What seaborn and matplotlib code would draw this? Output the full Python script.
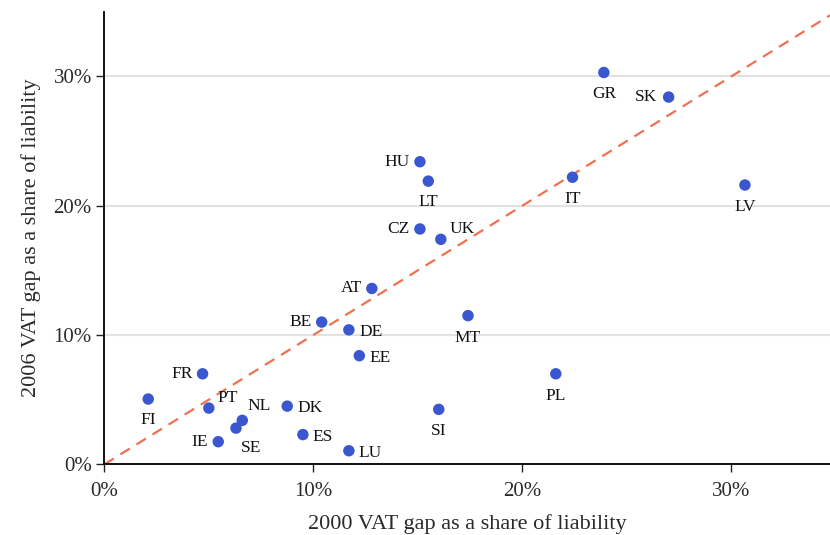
import matplotlib
matplotlib.use("Agg")
import matplotlib.pyplot as plt
import seaborn as sns
import pandas as pd
from matplotlib.ticker import FuncFormatter

countries = ["GR", "SK", "HU", "LT", "IT", "LV", "CZ", "UK", "AT", "BE", "DE", "EE",
             "MT", "FR", "FI", "PT", "NL", "SE", "IE", "DK", "ES", "LU", "PL", "SI"]
gap_2000 = [23.9, 27.0, 15.1, 15.5, 22.4, 30.65, 15.1, 16.1, 12.8, 10.4, 11.7, 12.2,
            17.4, 4.7, 2.1, 5.0, 6.6, 6.3, 5.45, 8.75, 9.5, 11.7, 21.6, 16.0]
gap_2006 = [30.3, 28.4, 23.4, 21.9, 22.2, 21.6, 18.2, 17.4, 13.6, 11.0, 10.4, 8.4,
            11.5, 7.0, 5.05, 4.35, 3.4, 2.8, 1.75, 4.5, 2.3, 1.05, 7.0, 4.25]
x_ticks = [0, 10, 20, 30]
y_ticks = [0, 10, 20, 30]

# label offsets in pixels (style only): (dx, dy, ha)
label_style = {
    "GR": (0, -22, "center"), "SK": (-11, 0, "right"), "HU": (-10, 0, "right"),
    "LT": (0, -21, "center"), "IT": (0, -22, "center"), "LV": (0, -22, "center"),
    "CZ": (-10, 0, "right"), "UK": (9, 10, "left"), "AT": (-10, 0, "right"),
    "BE": (-10, 0, "right"), "DE": (11, -2, "left"), "EE": (10, -2, "left"),
    "MT": (0, -22, "center"), "FR": (-10, 0, "right"), "FI": (0, -21, "center"),
    "PT": (9, 10, "left"), "NL": (5, 14, "left"), "SE": (5, -20, "left"),
    "IE": (-10, 0, "right"), "DK": (10, -2, "left"), "ES": (10, -2, "left"),
    "LU": (10, -2, "left"), "PL": (0, -22, "center"), "SI": (0, -22, "center"),
}

df = pd.DataFrame({"country": countries, "x": gap_2000, "y": gap_2006})

sns.set_theme(style="white")
plt.rcParams["font.family"] = ["Liberation Serif", "DejaVu Serif"]

fig = plt.figure(figsize=(8.3, 5.35), dpi=100)
ax = fig.add_axes([0.1257, 0.1321, 0.8743, 0.846])

ax.set_xlim(0, 34.72)
ax.set_ylim(0, 35)
ax.set_yticks(y_ticks)
ax.set_xticks(x_ticks)
ax.yaxis.grid(True, color="#e2e2e2", linewidth=1.5)
ax.xaxis.grid(False)
ax.set_axisbelow(True)

ax.axline((0, 0), slope=1, color="#f07150", linestyle=(0, (5, 3.5)),
          linewidth=1.6, zorder=2)

sns.scatterplot(data=df, x="x", y="y", ax=ax, color="#3b57d0", s=68,
                edgecolor="none", zorder=3)

for c, xv, yv in zip(countries, gap_2000, gap_2006):
    dx, dy, ha = label_style[c]
    ax.annotate(c, (xv, yv), xytext=(dx, dy), textcoords="offset pixels",
                ha=ha, va="center", fontsize=12.5, color="#111111")

fmt = FuncFormatter(lambda v, p: f"{int(v)}%")
ax.xaxis.set_major_formatter(fmt)
ax.yaxis.set_major_formatter(fmt)
ax.tick_params(axis="both", which="major", direction="out", length=6, width=1,
               labelsize=15, color="#222222", labelcolor="#2a2a2a",
               bottom=True, left=True)
ax.tick_params(axis="x", pad=7)
ax.tick_params(axis="y", pad=3)

for side in ["top", "right"]:
    ax.spines[side].set_visible(False)
for side in ["left", "bottom"]:
    ax.spines[side].set_color("#111111")
    ax.spines[side].set_linewidth(1.4)

ax.set_xlabel("2000 VAT gap as a share of liability", fontsize=16, color="#2a2a2a",
              labelpad=9)
ax.set_ylabel("2006 VAT gap as a share of liability", fontsize=16, color="#2a2a2a",
              labelpad=9)

fig.savefig("out.png", dpi=100)
